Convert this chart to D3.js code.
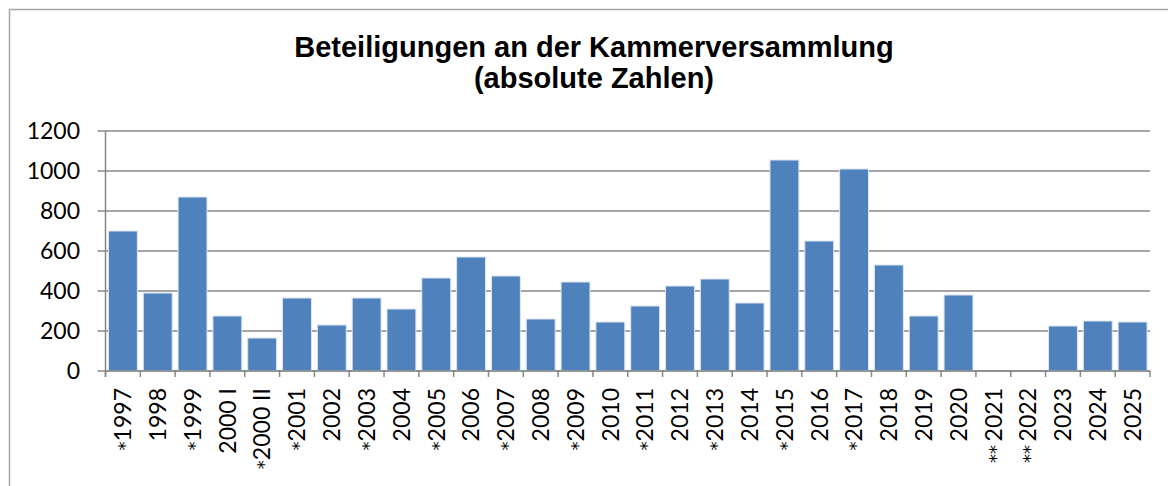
<!DOCTYPE html>
<html>
<head>
<meta charset="utf-8">
<script src="https://cdn.jsdelivr.net/npm/d3@7"></script>
<style>
  body { margin: 0; background: #fff; }
  svg { display: block; }
</style>
</head>
<body>
<div id="chart"></div>
<script>
(function() {
  var W = 1168, H = 486;

  var years = ['*1997', '1998', '*1999', '2000 I', '*2000 II', '*2001', '2002', '*2003', '2004', '*2005',
    '2006', '*2007', '2008', '*2009', '2010', '*2011', '2012', '*2013', '2014', '*2015',
    '2016', '*2017', '2018', '2019', '2020', '** 2021', '** 2022', '2023', '2024', '2025'];
  var values = [700, 390, 870, 275, 165, 365, 230, 365, 310, 465,
    570, 475, 260, 445, 245, 325, 425, 460, 340, 1055,
    650, 1010, 530, 275, 380, 0, 0, 225, 250, 245];
  var yTicks = [0, 200, 400, 600, 800, 1000, 1200];

  var m = { left: 105.5, right: 18, top: 131, bottom: 115 };
  var FONT = 'Lato, sans-serif';

  var svg = d3.select('#chart').append('svg').attr('width', W).attr('height', H);

  // outer frame (only top and left visible)
  svg.append('path').attr('d', 'M9.5,' + H + 'V9.5H' + W)
    .attr('fill', 'none').attr('stroke', '#a6a6a6').attr('stroke-width', 1.5);

  var x = d3.scaleBand().domain(years).range([m.left, W - m.right]).paddingInner(0.17).paddingOuter(0.085);
  var y = d3.scaleLinear().domain([0, 1200]).range([H - m.bottom, m.top]);

  // gridlines
  svg.append('g').selectAll('line').data(yTicks).join('line')
    .attr('x1', m.left - 8).attr('x2', W - m.right)
    .attr('y1', function(d) { return y(d); }).attr('y2', function(d) { return y(d); })
    .attr('stroke', '#878787').attr('stroke-width', 1.5);

  svg.append('g').selectAll('text').data(yTicks).join('text')
    .attr('x', 80).attr('y', function(d) { return y(d); })
    .attr('dy', '0.36em').attr('text-anchor', 'end')
    .attr('font-family', FONT).attr('font-size', '23px').attr('fill', '#000')
    .text(function(d) { return d; });

  // bars
  svg.append('g').selectAll('rect').data(values).join('rect')
    .attr('x', function(d, i) { return x(years[i]); })
    .attr('width', x.bandwidth())
    .attr('y', function(d) { return y(d); })
    .attr('height', function(d) { return y(0) - y(d); })
    .attr('fill', '#4f81bd')
    .attr('stroke', '#dce6f2').attr('stroke-width', 1)
    .attr('display', function(d) { return d > 0 ? null : 'none'; });

  // axes lines
  var y0 = y(0);
  svg.append('line').attr('x1', m.left).attr('x2', m.left).attr('y1', m.top).attr('y2', y0 + 6)
    .attr('stroke', '#878787').attr('stroke-width', 1.5);
  svg.append('line').attr('x1', m.left).attr('x2', W - m.right).attr('y1', y0).attr('y2', y0)
    .attr('stroke', '#878787').attr('stroke-width', 1.5);

  var bounds = years.map(function(d, i) { return m.left + i * (W - m.right - m.left) / years.length; });
  bounds.push(W - m.right);
  svg.append('g').selectAll('line').data(bounds).join('line')
    .attr('x1', function(d) { return d; }).attr('x2', function(d) { return d; })
    .attr('y1', y0).attr('y2', y0 + 6)
    .attr('stroke', '#878787').attr('stroke-width', 1.5);

  // x labels (rotated); asterisks in a larger font
  var xl = svg.append('g').selectAll('text').data(years).join('text')
    .attr('transform', function(d) { return 'translate(' + (x(d) + x.bandwidth() / 2) + ',' + 388 + ') rotate(-90)'; })
    .attr('text-anchor', 'end').attr('dy', '0.36em')
    .attr('font-family', FONT).attr('font-size', '23px').attr('fill', '#000');
  xl.each(function(d) {
    var t = d3.select(this);
    var mm = d.match(/^(\*+\s?)(.*)$/);
    if (mm) {
      t.append('tspan').attr('font-family', 'DejaVu Sans, sans-serif').attr('font-size', '18px').text(mm[1].replace(' ', '\u2009'));
      t.append('tspan').text(mm[2]);
    } else {
      t.text(d);
    }
  });

  // title
  var title = svg.append('text').attr('text-anchor', 'middle')
    .attr('font-family', 'Liberation Sans, Arial, sans-serif').attr('font-weight', 'bold')
    .attr('font-size', '29px').attr('fill', '#000');
  title.append('tspan').attr('x', 594).attr('y', 57).text('Beteiligungen an der Kammerversammlung');
  title.append('tspan').attr('x', 594).attr('y', 88).text('(absolute Zahlen)');
})();
</script>
</body>
</html>
